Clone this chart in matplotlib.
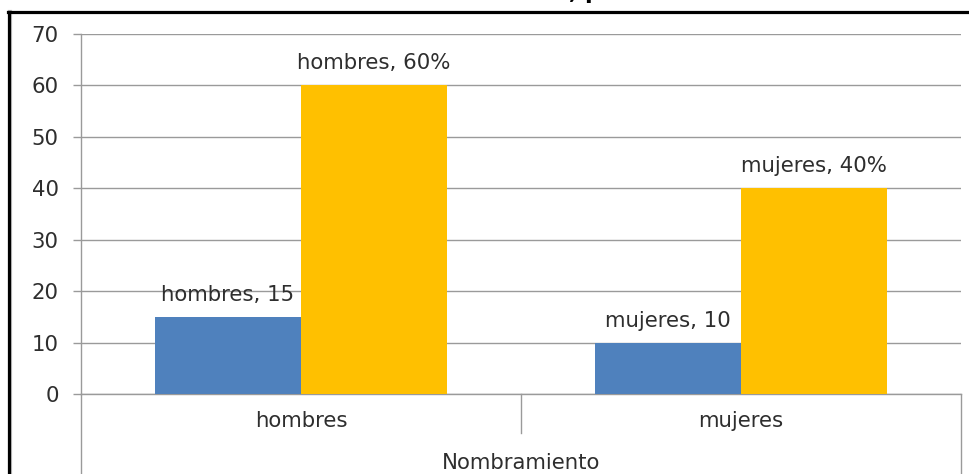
import numpy as np
import matplotlib
matplotlib.use("Agg")
import matplotlib.pyplot as plt
from matplotlib.lines import Line2D

# data
categories = ["hombres", "mujeres"]
counts = [15, 10]          # blue series
percents = [60, 40]        # yellow series
axis_title = "Nombramiento"
yticks = [0, 10, 20, 30, 40, 50, 60, 70]

W, H = 970, 474
plt.rcParams['font.family'] = ['DejaVu Sans']
txt_col = "#2e2e2e"
grid_col = "#9a9a9a"
fs = 15.3

fig = plt.figure(figsize=(W / 100, H / 100), dpi=100)
ax = fig.add_axes([81 / W, 80 / H, 880 / W, 360 / H])

x = np.arange(len(categories))
bw = 0.332
b1 = ax.bar(x - bw / 2, counts, bw, color="#4F81BD", zorder=3)
b2 = ax.bar(x + bw / 2, percents, bw, color="#FFC000", zorder=3)

# data labels
for rect, cat, v in zip(b1, categories, counts):
    ax.annotate(f"{cat}, {v}", (rect.get_x() + rect.get_width() / 2, v),
                xytext=(0, 15.8), textcoords="offset points",
                ha="center", va="center", fontsize=fs, color=txt_col, zorder=4)
for rect, cat, v in zip(b2, categories, percents):
    ax.annotate(f"{cat}, {v}%", (rect.get_x() + rect.get_width() / 2, v),
                xytext=(0, 15.8), textcoords="offset points",
                ha="center", va="center", fontsize=fs, color=txt_col, zorder=4)

ax.set_xlim(-0.5, len(categories) - 0.5)
ax.set_ylim(0, 70)
ax.set_yticks(yticks)
ax.yaxis.grid(True, color=grid_col, lw=1, zorder=0)
ax.tick_params(axis="y", direction="out", length=6, width=1, color=grid_col,
               labelsize=fs, labelcolor=txt_col, pad=10)
ax.set_xticks([])

for s in ["top", "right"]:
    ax.spines[s].set_visible(False)
for s in ["left", "bottom"]:
    ax.spines[s].set_color(grid_col)
    ax.spines[s].set_linewidth(1)

# two-level category axis drawn below the plot area
depth = -80 / 360
tr = ax.get_xaxis_transform()
ax.plot([-0.5, -0.5], [0, depth], transform=tr, color=grid_col, lw=1, clip_on=False)
ax.plot([0.5, 0.5], [0, -39 / 360], transform=tr, color=grid_col, lw=1, clip_on=False)
ax.plot([1.5, 1.5], [0, depth], transform=tr, color=grid_col, lw=1, clip_on=False)
for xi, cat in zip(x, categories):
    ax.text(xi, -27 / 360, cat, transform=tr, ha="center", va="center",
            fontsize=fs, color=txt_col)
ax.text(0.5, -69 / 360, axis_title, transform=tr, ha="center", va="center",
        fontsize=fs, color=txt_col)

# black frame around the chart area (top and left edge visible)
fig.add_artist(Line2D([10 / W, 10 / W], [0, 1 - 12 / H], color="#c0c0c0", lw=3,
                      transform=fig.transFigure))
fig.add_artist(Line2D([9 / W, 9 / W], [0, 1 - 12 / H], color="black", lw=2.3,
                      transform=fig.transFigure))
fig.add_artist(Line2D([8 / W, 1], [1 - 12 / H, 1 - 12 / H], color="black", lw=2.3,
                      transform=fig.transFigure))

# title, cut off at the top edge as in the reference: only descenders show
fig.text(382 / W, 1 + 1 / H, "Nombramiento, por sexo", ha="left", va="baseline",
         fontsize=16, fontweight="bold", color="black")

fig.savefig("out.png", dpi=100)
